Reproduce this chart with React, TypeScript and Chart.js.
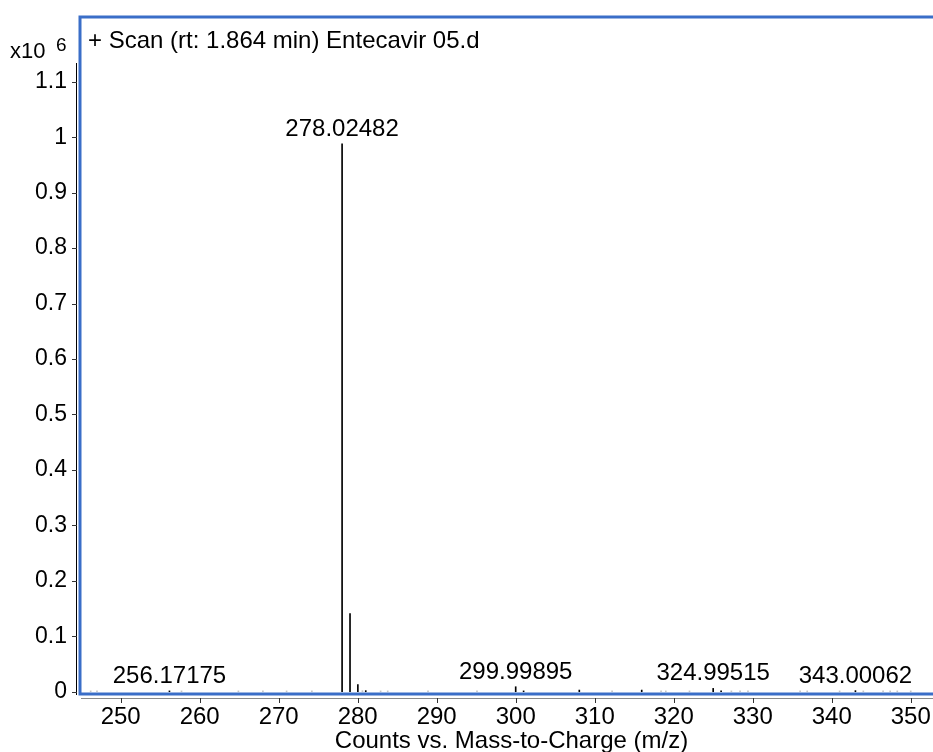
import React, { useEffect, useRef } from "react";
import { Chart, registerables } from "chart.js";

Chart.register(...registerables);

// ---- data ----
const PEAK_MZ = [256.17175, 278.02482, 279.028, 280.021, 281.02, 299.99895, 301.0, 308.05, 315.95, 324.99515, 326.0, 343.00062];
const PEAK_INTENSITY = [0.0015, 0.988, 0.141, 0.013, 0.002, 0.009, 0.0015, 0.003, 0.003, 0.006, 0.0015, 0.002];
const PEAK_LABELS = ["256.17175", "278.02482", "", "", "", "299.99895", "", "", "", "324.99515", "", "343.00062"];

const NOISE_MZ = [246.2, 247.0, 257.7, 264.9, 268.0, 271.0, 274.2, 280.6, 282.9, 283.8, 288.9, 295.1, 312.2, 318.4, 319.0, 322.0, 327.3, 328.4, 329.4, 336.0, 336.9, 341.0, 344.0, 346.5, 347.4, 348.3, 350.0];
const NOISE_INTENSITY = [0.0015, 0.0015, 0.0015, 0.0015, 0.0015, 0.0015, 0.0015, 0.002, 0.0015, 0.0015, 0.0015, 0.0015, 0.0015, 0.0015, 0.0015, 0.0015, 0.0015, 0.0015, 0.0015, 0.0015, 0.0015, 0.0015, 0.0015, 0.0015, 0.0015, 0.0015, 0.0015];

const X_TICKS = [250, 260, 270, 280, 290, 300, 310, 320, 330, 340, 350];
const X_TICK_LABELS = ["250", "260", "270", "280", "290", "300", "310", "320", "330", "340", "350"];
const Y_TICKS = [0, 0.1, 0.2, 0.3, 0.4, 0.5, 0.6, 0.7, 0.8, 0.9, 1.0, 1.1];
const Y_TICK_LABELS = ["0", "0.1", "0.2", "0.3", "0.4", "0.5", "0.6", "0.7", "0.8", "0.9", "1", "1.1"];

const TITLE = "+ Scan (rt: 1.864 min) Entecavir 05.d";
const X_TITLE = "Counts vs. Mass-to-Charge (m/z)";
const Y_MULT = "x10";
const Y_EXP = "6";

const FONT = "'Liberation Sans', Arial, sans-serif";
const BLUE = "#3a6ec8";

const overlay = {
  id: "overlay",
  afterDatasetsDraw(chart: any) {
    const { ctx, chartArea: a, scales } = chart;
    const x = scales.x;
    const y = scales.y;
    ctx.save();

    // blue frame (top, left, bottom)
    ctx.strokeStyle = BLUE;
    ctx.lineWidth = 3;
    ctx.beginPath();
    ctx.moveTo(chart.width + 5, a.top);
    ctx.lineTo(a.left, a.top);
    ctx.lineTo(a.left, a.bottom);
    ctx.lineTo(chart.width + 5, a.bottom);
    ctx.stroke();

    // y axis line + ticks
    ctx.lineWidth = 1;
    ctx.strokeStyle = "#000";
    ctx.beginPath();
    ctx.moveTo(a.left - 3.5, 63);
    ctx.lineTo(a.left - 3.5, a.bottom + 1);
    ctx.stroke();
    ctx.strokeStyle = "#333";
    ctx.beginPath();
    Y_TICKS.forEach((v) => {
      const py = Math.round(y.getPixelForValue(v)) + 0.5;
      ctx.moveTo(a.left - 8, py);
      ctx.lineTo(a.left - 3, py);
    });
    ctx.stroke();

    // x axis line + ticks
    ctx.strokeStyle = "#8a8a8a";
    ctx.beginPath();
    ctx.moveTo(a.left + 1, a.bottom + 4.5);
    ctx.lineTo(a.right, a.bottom + 4.5);
    ctx.stroke();
    ctx.strokeStyle = "#333";
    ctx.beginPath();
    X_TICKS.forEach((v) => {
      const px = Math.round(x.getPixelForValue(v)) + 0.5;
      ctx.moveTo(px, a.bottom + 4);
      ctx.lineTo(px, a.bottom + 9);
    });
    ctx.stroke();

    // texts
    ctx.fillStyle = "#000";
    ctx.textBaseline = "alphabetic";
    ctx.textAlign = "left";
    ctx.font = `24px ${FONT}`;
    ctx.fillText(TITLE, a.left + 8, 48);

    ctx.font = `22px ${FONT}`;
    ctx.fillText(Y_MULT, 10, 58);
    ctx.font = `19px ${FONT}`;
    ctx.fillText(Y_EXP, 56, 51);

    ctx.font = `24px ${FONT}`;
    ctx.textAlign = "center";
    PEAK_MZ.forEach((mz, i) => {
      const lbl = PEAK_LABELS[i];
      if (!lbl) return;
      const px = x.getPixelForValue(mz);
      const py = y.getPixelForValue(PEAK_INTENSITY[i]);
      ctx.fillText(lbl, px, py - 8);
    });

    ctx.fillText(X_TITLE, (a.left + a.right) / 2 + 5, 748);
    ctx.restore();
  },
};

export default function App() {
  const ref = useRef<HTMLCanvasElement | null>(null);

  useEffect(() => {
    if (!ref.current) return;
    const chart = new Chart(ref.current, {
      type: "bar",
      data: {
        datasets: [
          {
            label: "noise",
            data: NOISE_MZ.map((m, i) => ({ x: m, y: NOISE_INTENSITY[i] })),
            backgroundColor: "#c4c4c4",
            borderWidth: 0,
            barThickness: 1,
            grouped: false,
          } as any,
          {
            label: "peaks",
            data: PEAK_MZ.map((m, i) => ({ x: m, y: PEAK_INTENSITY[i] })),
            backgroundColor: "#000",
            borderWidth: 0,
            barThickness: 1,
            grouped: false,
          } as any,
        ],
      },
      options: {
        responsive: false,
        animation: false,
        layout: { padding: { top: 17, left: 0, right: 0, bottom: 0 } },
        plugins: { legend: { display: false }, tooltip: { enabled: false }, title: { display: false } },
        scales: {
          x: {
            type: "linear",
            min: 244.85,
            max: 352.82,
            offset: false,
            grid: { display: false, drawTicks: false },
            border: { display: false },
            afterBuildTicks: (s: any) => {
              s.ticks = X_TICKS.map((v) => ({ value: v }));
            },
            afterFit: (s: any) => {
              s.height = 58;
              s.paddingLeft = 0;
              s.paddingRight = 0;
            },
            ticks: {
              autoSkip: false,
              maxRotation: 0,
              padding: 9,
              color: "#000",
              font: { family: FONT, size: 24 },
              callback: (_v: any, i: number) => X_TICK_LABELS[i],
            },
          },
          y: {
            type: "linear",
            min: -0.0041,
            max: 1.2167,
            grid: { display: false, drawTicks: false },
            border: { display: false },
            afterBuildTicks: (s: any) => {
              s.ticks = Y_TICKS.map((v) => ({ value: v }));
            },
            afterFit: (s: any) => {
              s.width = 80;
              s.paddingTop = 0;
              s.paddingBottom = 0;
            },
            ticks: {
              autoSkip: false,
              padding: 13,
              color: "#000",
              font: { family: FONT, size: 23 },
              callback: (_v: any, i: number) => Y_TICK_LABELS[i],
            },
          },
        },
      } as any,
      plugins: [overlay],
    });
    return () => chart.destroy();
  }, []);

  return (
    <div style={{ position: "absolute", left: 0, top: 0, width: 933, height: 752, overflow: "hidden", background: "#fff" }}>
      <canvas ref={ref} width={933} height={752} style={{ display: "block" }} />
    </div>
  );
}
